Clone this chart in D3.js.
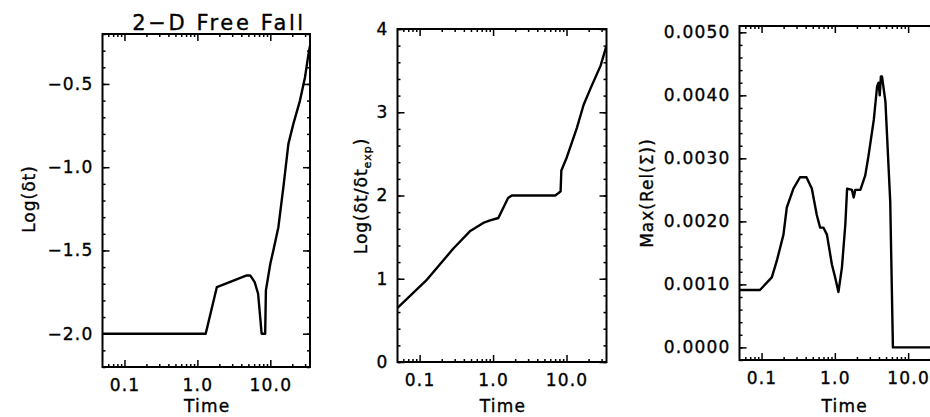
<!DOCTYPE html>
<html>
<head>
<meta charset="utf-8">
<script src="https://cdn.jsdelivr.net/npm/d3@7"></script>
<style>
  body { margin: 0; background: #fff; }
  svg { display: block; }
  text { font-family: "DejaVu Sans", sans-serif; fill: #000; stroke: #000; stroke-width: 0.35; }
  .tick text { font-size: 17px; letter-spacing: 1.2px; }
  .tick line { stroke: #000; stroke-width: 1.5; }
  .domain { display: none; }
</style>
</head>
<body>
<svg id="chart" width="930" height="417"></svg>
<script>
const svg = d3.select("#chart");

// shared time axis
const xTicks = [0.1, 1, 10];

// panel 1: Log(dt)
const time1 = [0.05, 1.3, 1.85, 4.75, 5.3, 6.1, 6.8, 7.6, 8.5, 8.7, 10.0, 11.0, 12.9, 15.1, 17.7, 20.7, 25.5, 29.9, 33.1, 35];
const logDt = [-2.0, -2.0, -1.72, -1.65, -1.65, -1.69, -1.76, -2.0, -2.0, -1.74, -1.58, -1.5, -1.36, -1.12, -0.86, -0.74, -0.6, -0.46, -0.33, -0.27];
const yTicks1 = [-2.0, -1.5, -1.0, -0.5];

// panel 2: Log(dt/dt_exp)
const time2 = [0.05, 0.123, 0.286, 0.483, 0.734, 0.91, 1.18, 1.39, 1.6, 1.8, 7.0, 7.8, 8.3, 8.5, 10.1, 13.8, 17.1, 21.3, 29.1, 35];
const logRatio = [0.65, 0.98, 1.36, 1.57, 1.67, 1.70, 1.73, 1.86, 1.97, 2.0, 2.0, 2.03, 2.05, 2.3, 2.46, 2.81, 3.09, 3.29, 3.56, 3.8];
const yTicks2 = [0, 1, 2, 3, 4];

// panel 3: Max(Rel(Sigma))
const time3 = [0.05, 0.095, 0.138, 0.162, 0.199, 0.221, 0.272, 0.335, 0.41, 0.485, 0.567, 0.63, 0.70, 0.78, 0.91, 1.01, 1.12, 1.25, 1.39, 1.47, 1.71, 1.81, 1.9, 2.23, 2.6, 2.88, 3.4, 3.77, 3.95, 4.1, 4.25, 4.4, 4.9, 5.7, 6.2, 35];
const maxRel = [0.00091, 0.00091, 0.00111, 0.00138, 0.00179, 0.00222, 0.00252, 0.0027, 0.0027, 0.00252, 0.0021, 0.0019, 0.0019, 0.00179, 0.00132, 0.00111, 0.00088, 0.00127, 0.00195, 0.00252, 0.0025, 0.00238, 0.0025, 0.0025, 0.00273, 0.00304, 0.00361, 0.00414, 0.0042, 0.0040, 0.0043, 0.0043, 0.0039, 0.00231, 0.0, 0.0];
const yTicks3 = [0, 0.001, 0.002, 0.003, 0.004, 0.005];

const panels = [
  { box: [102.5, 310, 34, 367], ydom: [-2.2, -0.2], x: time1, y: logDt, yt: yTicks1, minor: 0.1, fmt: d3.format(".1f") },
  { box: [397.5, 606.5, 29, 362], ydom: [0, 4], x: time2, y: logRatio, yt: yTicks2, minor: 0.2, fmt: d3.format("d") },
  { box: [739.5, 948, 26, 360], ydom: [-0.0002, 0.0051], x: time3, y: maxRel, yt: yTicks3, minor: 0.0002, fmt: d3.format(".4f") }
];

// log minor ticks 2..9 per decade
const xMinor = [];
[0.01, 0.1, 1, 10].forEach(d => { for (let k = 2; k <= 9; k++) xMinor.push(d * k); });

panels.forEach((p, i) => {
  const [l, r, t, b] = p.box;
  const x = d3.scaleLog().domain([0.05, 35]).range([l, r]);
  const y = d3.scaleLinear().domain(p.ydom).range([b, t]);
  const g = svg.append("g");

  const xm = xMinor.filter(v => v > 0.05 && v < 35);
  const ym = d3.range(Math.ceil(p.ydom[0] / p.minor - 1e-6), Math.floor(p.ydom[1] / p.minor + 1e-6) + 1)
    .map(k => k * p.minor);

  // minor ticks
  g.append("g").attr("transform", `translate(0,${b})`)
    .call(d3.axisBottom(x).tickValues(xm).tickSize(-3).tickFormat(""));
  g.append("g").attr("transform", `translate(0,${t})`)
    .call(d3.axisTop(x).tickValues(xm).tickSize(-3).tickFormat(""));
  g.append("g").attr("transform", `translate(${l},0)`)
    .call(d3.axisLeft(y).tickValues(ym).tickSize(-3).tickFormat(""));
  g.append("g").attr("transform", `translate(${r},0)`)
    .call(d3.axisRight(y).tickValues(ym).tickSize(-3).tickFormat(""));

  // major ticks
  g.append("g").attr("transform", `translate(0,${b})`)
    .call(d3.axisBottom(x).tickValues(xTicks).tickSize(-7).tickPadding(12).tickFormat(d3.format(".1f")));
  g.append("g").attr("transform", `translate(0,${t})`)
    .call(d3.axisTop(x).tickValues(xTicks).tickSize(-7).tickFormat(""));
  g.append("g").attr("transform", `translate(${l},0)`)
    .call(d3.axisLeft(y).tickValues(p.yt).tickSize(-7).tickPadding(9).tickFormat(p.fmt));
  g.append("g").attr("transform", `translate(${r},0)`)
    .call(d3.axisRight(y).tickValues(p.yt).tickSize(-7).tickFormat(""));

  g.append("rect")
    .attr("x", l).attr("y", t).attr("width", r - l).attr("height", b - t)
    .attr("fill", "none").attr("stroke", "#000").attr("stroke-width", 2);

  g.append("clipPath").attr("id", "clip" + i)
    .append("rect").attr("x", l).attr("y", t).attr("width", r - l).attr("height", b - t);

  g.append("path")
    .datum(p.x.map((d, j) => [d, p.y[j]]))
    .attr("clip-path", `url(#clip${i})`)
    .attr("fill", "none").attr("stroke", "#000").attr("stroke-width", 2.4)
    .attr("stroke-linejoin", "round")
    .attr("d", d3.line().x(d => x(d[0])).y(d => y(d[1])));

  g.append("text")
    .attr("x", (l + r) / 2 + 1).attr("y", 412)
    .attr("text-anchor", "middle").attr("font-size", 17).attr("letter-spacing", 1.2)
    .text("Time");
});

// title
svg.append("text").attr("x", 219).attr("y", 30).attr("text-anchor", "middle")
  .attr("font-size", 21).attr("letter-spacing", 2.6).text("2\u2212D Free Fall");

// y-axis titles
svg.append("text").attr("transform", "translate(35,199) rotate(-90)")
  .attr("text-anchor", "middle").attr("font-size", 17).attr("letter-spacing", 1)
  .text("Log(\u03b4t)");

const t2 = svg.append("text").attr("transform", "translate(367,196) rotate(-90)")
  .attr("text-anchor", "middle").attr("font-size", 17).attr("letter-spacing", 1);
t2.append("tspan").text("Log(\u03b4t/\u03b4t");
t2.append("tspan").attr("font-size", 11).attr("dy", 4).text("exp");
t2.append("tspan").attr("dy", -4).text(")");

svg.append("text").attr("transform", "translate(653,193) rotate(-90)")
  .attr("text-anchor", "middle").attr("font-size", 17).attr("letter-spacing", 1)
  .text("Max(Rel(\u03a3))");
</script>
</body>
</html>
